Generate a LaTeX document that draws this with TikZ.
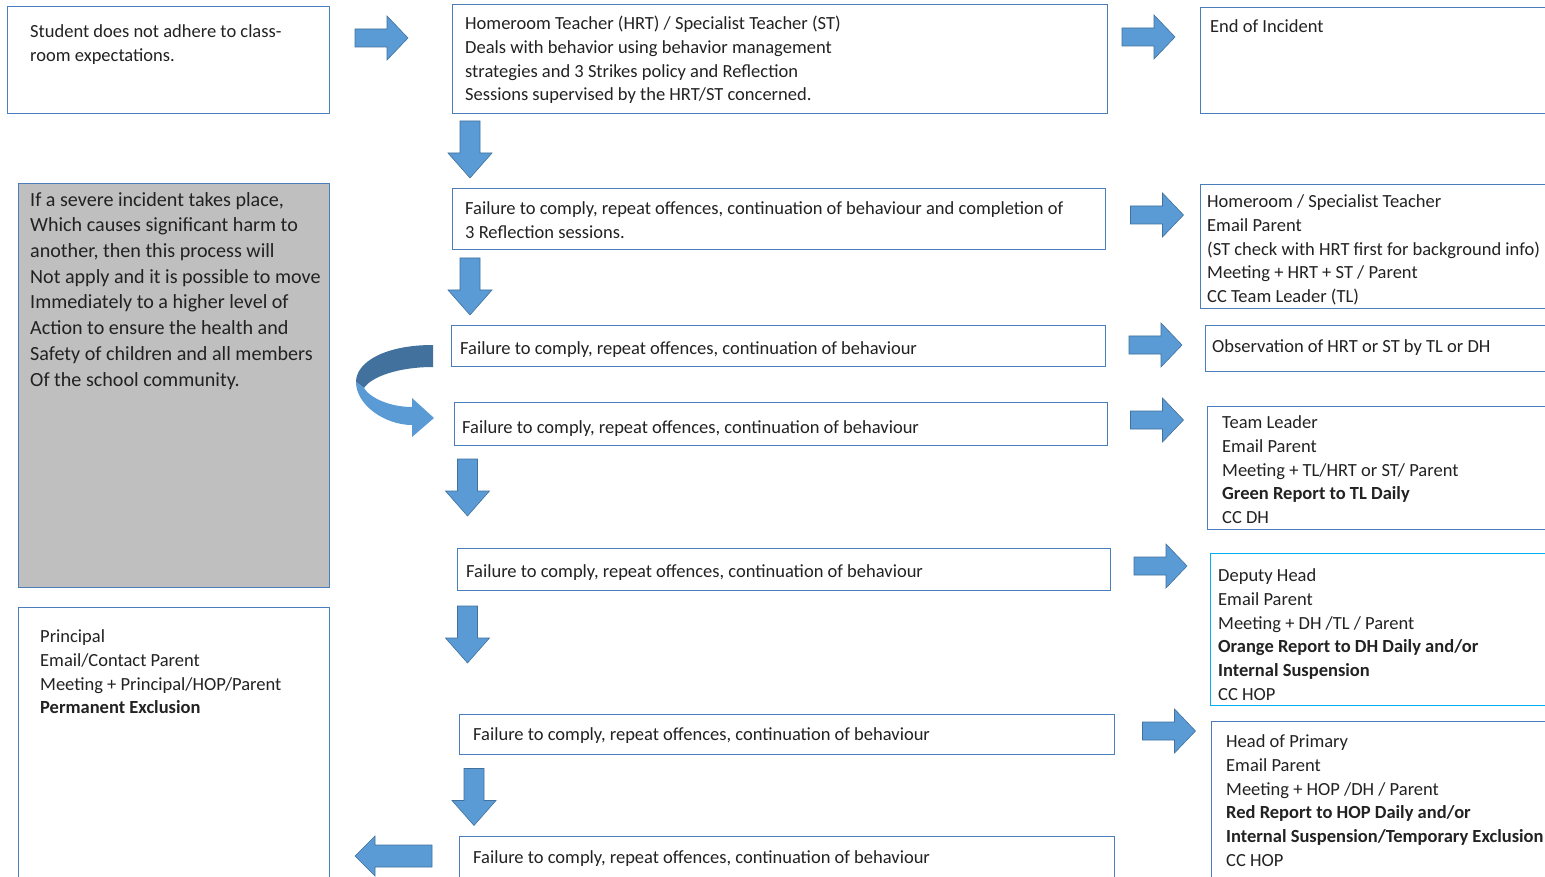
\documentclass[tikz,border=0pt]{standalone}
\usepackage{fontspec}
\setmainfont{Carlito}
\usetikzlibrary{calc}
\definecolor{boxblue}{HTML}{4A7EBB}
\definecolor{arrfill}{HTML}{5B9BD5}
\definecolor{arrline}{HTML}{41719C}
\definecolor{arrdark}{HTML}{41719C}
\definecolor{cyanb}{HTML}{00B0F0}
\definecolor{grayfill}{HTML}{BFBFBF}
\definecolor{inktext}{HTML}{222222}
\begin{document}
\begin{tikzpicture}[x=1pt,y=-1pt,
  box/.style={draw=boxblue,line width=1.3pt,fill=white,inner sep=0pt,anchor=north west},
  txt/.style={anchor=base west,align=left,inner sep=0pt,yshift=-1.5pt,text=inktext,font=\fontsize{18.5}{23.8}\selectfont},
  graytxt/.style={anchor=base west,align=left,inner sep=0pt,yshift=-1pt,text=inktext,font=\fontsize{20.1}{25.7}\selectfont},
  blockarrow/.style={fill=arrfill,draw=arrline,line width=0.6pt,line join=miter},
  rarr/.pic={\path[blockarrow] (-26.5,-9) -- (5.5,-9) -- (5.5,-22) -- (26.5,0) -- (5.5,22) -- (5.5,9) -- (-26.5,9) -- cycle;},
  darr/.pic={\path[blockarrow] (-10,-28.5) -- (10,-28.5) -- (10,3.5) -- (22,3.5) -- (0,28.5) -- (-22,3.5) -- (-10,3.5) -- cycle;},
  larr/.pic={\path[blockarrow] (38.5,-11) -- (-18.5,-11) -- (-18.5,-20) -- (-38.5,0) -- (-18.5,20) -- (-18.5,11) -- (38.5,11) -- cycle;}
]
\useasboundingbox (0,0) rectangle (1545,877);
\clip (0,0) rectangle (1545,877);
\fill[white] (0,0) rectangle (1545,877);

% boxes
\node[box,minimum width=322,minimum height=107] (student) at (7,6) {};
\node[box,minimum width=655,minimum height=109] (hrt) at (452,4) {};
\node[box,minimum width=360,minimum height=106] (endinc) at (1200,7) {};
\node[box,minimum width=653,minimum height=61] (fail1) at (452,188) {};
\node[box,minimum width=360,minimum height=124] (hst) at (1200,184) {};
\node[box,minimum width=654,minimum height=41] (fail2) at (451,325) {};
\node[box,minimum width=355,minimum height=46] (obs) at (1205,325) {};
\node[box,minimum width=653,minimum height=43] (fail3) at (454,402) {};
\node[box,minimum width=353,minimum height=123] (tl) at (1207,406) {};
\node[box,minimum width=653,minimum height=42] (fail4) at (457,548) {};
\node[box,draw=cyanb,minimum width=350,minimum height=152] (dh) at (1210,553) {};
\node[box,minimum width=655,minimum height=40] (fail5) at (459,714) {};
\node[box,minimum width=349,minimum height=175] (hop) at (1211,721) {};
\node[box,minimum width=655,minimum height=60] (fail6) at (459,836) {};
\node[box,fill=grayfill,minimum width=311,minimum height=404] (severe) at (18,183) {};
\node[box,minimum width=311,minimum height=290] (principal) at (18,607) {};

% texts (anchor = baseline of the last line)
\node[txt] (tstudent) at (30,59.8) {Student does not adhere to class-\\room expectations.};
\node[txt] (thrt) at (465,99.4) {Homeroom Teacher (HRT) / Specialist Teacher (ST)\\Deals with behavior using behavior management\\strategies and 3 Strikes policy and Reflection\\Sessions supervised by the HRT/ST concerned.};
\node[txt] (tend) at (1210,31) {End of Incident};
\node[txt] (tfail1) at (465,236.8) {Failure to comply, repeat offences, continuation of behaviour and completion of\\3 Reflection sessions.};
\node[txt] (thst) at (1207,301.2) {Homeroom / Specialist Teacher\\Email Parent\\(ST check with HRT first for background info)\\Meeting + HRT + ST / Parent\\CC Team Leader (TL)};
\node[txt] (tfail2) at (460,353) {Failure to comply, repeat offences, continuation of behaviour};
\node[txt] (tobs) at (1212,351) {Observation of HRT or ST by TL or DH};
\node[txt] (tfail3) at (462,432) {Failure to comply, repeat offences, continuation of behaviour};
\node[txt] (ttl) at (1222,522.2) {Team Leader\\Email Parent\\Meeting + TL/HRT or ST/ Parent\\\textbf{Green Report to TL Daily}\\CC DH};
\node[txt] (tfail4) at (466,576) {Failure to comply, repeat offences, continuation of behaviour};
\node[txt] (tdh) at (1218,699) {Deputy Head\\Email Parent\\Meeting + DH /TL / Parent\\\textbf{Orange Report to DH Daily and/or}\\\textbf{Internal Suspension}\\CC HOP};
\node[txt] (tfail5) at (473,739) {Failure to comply, repeat offences, continuation of behaviour};
\node[txt] (thop) at (1226,865) {Head of Primary\\Email Parent\\Meeting + HOP /DH / Parent\\\textbf{Red Report to HOP Daily and/or}\\\textbf{Internal Suspension/Temporary Exclusion}\\CC HOP};
\node[txt] (tfail6) at (473,862) {Failure to comply, repeat offences, continuation of behaviour};
\node[graytxt] (tsevere) at (30,385) {If a severe incident takes place,\\Which causes significant harm to\\another, then this process will\\Not apply and it is possible to move\\Immediately to a higher level of\\Action to ensure the health and\\Safety of children and all members\\Of the school community.};
\node[txt] (tprincipal) at (40,712.4) {Principal\\Email/Contact Parent\\Meeting + Principal/HOP/Parent\\\textbf{Permanent Exclusion}};

% block arrows
\pic at (381.5,38) {rarr};
\pic at (1148.5,37) {rarr};
\pic at (1157,215) {rarr};
\pic at (1155.5,345) {rarr};
\pic at (1157,420) {rarr};
\pic at (1160.5,566) {rarr};
\pic at (1169,731) {rarr};
\pic at (470,149.5) {darr};
\pic at (470,286.5) {darr};
\pic at (467.5,487.5) {darr};
\pic at (467.5,634.5) {darr};
\pic at (474,797) {darr};
\pic at (393.5,856) {larr};

% curved U-turn arrow
\fill[arrdark] (433,345) .. controls (385,345) and (356,362) .. (356,382)
  -- (364,388) .. controls (372,376) and (400,367) .. (433,367) -- cycle;
\fill[arrfill] (356,382) .. controls (356,405) and (385,425) .. (412,425)
  -- (412,437) -- (434,418) -- (412,398) -- (412,407)
  .. controls (390,407) and (370,398) .. (364,388) -- cycle;
\end{tikzpicture}
\end{document}
